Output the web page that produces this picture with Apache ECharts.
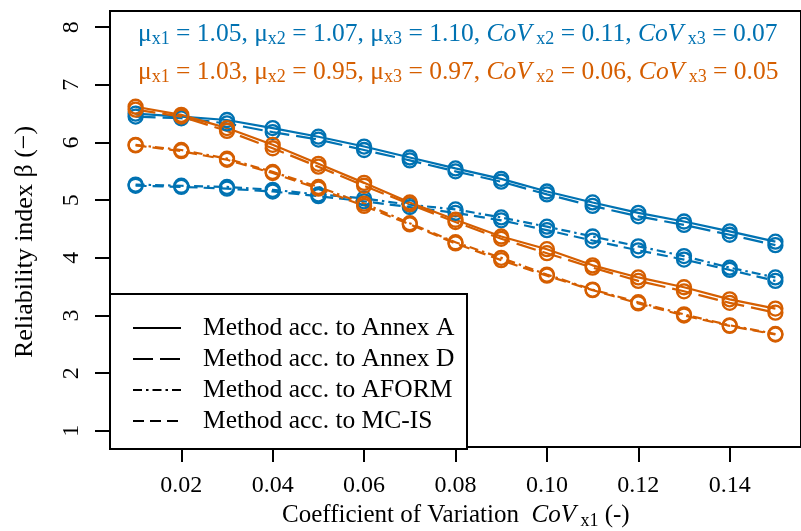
<!DOCTYPE html>
<html>
<head>
<meta charset="utf-8">
<script src="https://cdn.jsdelivr.net/npm/echarts@6/dist/echarts.min.js"></script>
<style>html,body{margin:0;padding:0;background:#fff}#c{width:801px;height:531px}</style>
</head>
<body>
<div id="c"></div>
<script>
// ---- data ----
const cov = [0.01,0.02,0.03,0.04,0.05,0.06,0.07,0.08,0.09,0.10,0.11,0.12,0.13,0.14,0.15];
const xTicks = [0.02,0.04,0.06,0.08,0.10,0.12,0.14];
const yTicks = [1,2,3,4,5,6,7,8];
const methods = ['Method acc. to Annex A','Method acc. to Annex D','Method acc. to AFORM','Method acc. to MC-IS'];

const blueAnnexA = [6.50,6.45,6.39,6.25,6.10,5.93,5.74,5.55,5.37,5.15,4.96,4.78,4.63,4.46,4.28];
const blueAnnexD = [6.45,6.42,6.33,6.18,6.05,5.87,5.69,5.50,5.32,5.10,4.90,4.72,4.57,4.40,4.22];
const blueAFORM  = [5.27,5.25,5.23,5.18,5.10,5.03,4.92,4.84,4.70,4.54,4.37,4.20,4.03,3.83,3.66];
const blueMCIS   = [5.25,5.23,5.20,5.15,5.07,4.98,4.88,4.78,4.65,4.48,4.30,4.13,3.97,3.79,3.60];

const orangeAnnexA = [6.62,6.48,6.25,5.96,5.63,5.30,4.96,4.66,4.37,4.15,3.87,3.66,3.49,3.28,3.12];
const orangeAnnexD = [6.57,6.45,6.20,5.90,5.58,5.25,4.93,4.62,4.33,4.08,3.83,3.60,3.42,3.22,3.05];
const orangeAFORM  = [5.96,5.87,5.72,5.49,5.23,4.94,4.60,4.27,4.00,3.71,3.45,3.23,3.02,2.83,2.68];
const orangeMCIS   = [5.95,5.85,5.70,5.47,5.20,4.90,4.58,4.25,3.96,3.69,3.44,3.21,3.00,2.82,2.67];

const BLUE = '#0072B2', ORANGE = '#D55E00';
const FONT = 'Liberation Serif';
const dashes = ['solid', [20,7], [9,4,2.5,4], [11,6]];

function pairs(vals){ return cov.map((c,i)=>[c, vals[i]]); }

const groups = [
  {color: BLUE,   sets: [blueAnnexA, blueAnnexD, blueAFORM, blueMCIS]},
  {color: ORANGE, sets: [orangeAnnexA, orangeAnnexD, orangeAFORM, orangeMCIS]}
];

const series = [];
groups.forEach(g => {
  g.sets.forEach((vals, k) => {
    series.push({
      type: 'line',
      data: pairs(vals),
      symbol: 'circle',
      symbolSize: 14,
      itemStyle: {color: 'rgba(0,0,0,0)', borderColor: g.color, borderWidth: 2.3},
      lineStyle: {color: g.color, width: 2.2, type: dashes[k]},
      emphasis: {disabled: true},
      z: 3
    });
  });
});
// legend-only series (black lines, no marker)
methods.forEach((name, k) => {
  series.push({
    type: 'line', name: name, data: [], symbol: 'none',
    lineStyle: {color: '#000', width: 2.2, type: dashes[k]},
    itemStyle: {color: 'rgba(0,0,0,0)', borderWidth: 0, borderColor: 'rgba(0,0,0,0)'}
  });
});

function rich(color, size, ssize){
  return {
    n: {fontSize: size, fontFamily: FONT, fill: color, color: color, lineHeight: size + 4},
    i: {fontSize: size, fontFamily: FONT, fontStyle: 'italic', fill: color, color: color, lineHeight: size + 4},
    s: {fontSize: ssize, fontFamily: FONT, fill: color, color: color, verticalAlign: 'bottom', lineHeight: ssize}
  };
}
const line1 = '{n|μ}{s|x1}{n| = 1.05, μ}{s|x2}{n| = 1.07, μ}{s|x3}{n| = 1.10, }{i|CoV}{s| x2}{n| = 0.11, }{i|CoV}{s| x3}{n| = 0.07}';
const line2 = '{n|μ}{s|x1}{n| = 1.03, μ}{s|x2}{n| = 0.95, μ}{s|x3}{n| = 0.97, }{i|CoV}{s| x2}{n| = 0.06, }{i|CoV}{s| x3}{n| = 0.05}';

const chart = echarts.init(document.getElementById('c'), null, {renderer: 'canvas'});
chart.setOption({
  animation: false,
  backgroundColor: '#fff',
  grid: {left: 110, top: 11, width: 697, height: 436, show: true, borderColor: '#000', borderWidth: 2, backgroundColor: 'transparent'},
  xAxis: {
    type: 'value', min: 0.0044, max: 0.1556,
    axisLine: {show: false},
    splitLine: {show: false},
    axisTick: {show: true, inside: false, length: 15, lineStyle: {color: '#000', width: 2}, customValues: xTicks},
    axisLabel: {customValues: xTicks, formatter: v => v.toFixed(2), fontFamily: FONT, fontSize: 24, color: '#000', margin: 27}
  },
  yAxis: {
    type: 'value', min: 0.72, max: 8.28,
    axisLine: {show: false},
    splitLine: {show: false},
    axisTick: {show: true, inside: false, length: 15, lineStyle: {color: '#000', width: 2}, customValues: yTicks},
    axisLabel: {customValues: yTicks, rotate: 90, fontFamily: FONT, fontSize: 24, color: '#000', margin: 26}
  },
  legend: {
    show: true, orient: 'vertical', left: 132, top: 315, z: 100,
    data: methods, itemWidth: 48, itemHeight: 14, itemGap: 5,
    padding: 0, selectedMode: false,
    itemStyle: {color: 'rgba(0,0,0,0)', borderWidth: 0, borderColor: 'rgba(0,0,0,0)'},
    textStyle: {fontFamily: FONT, fontSize: 25.5, color: '#000', padding: [0,0,0,17]}
  },
  graphic: [
    {type: 'rect', left: 109, top: 293, shape: {width: 357, height: 155}, style: {fill: '#fff', stroke: '#000', lineWidth: 2}, z: 10},
    {type: 'text', left: 138, top: 21, style: {text: line1, rich: rich(BLUE, 25.5, 18)}, z: 60},
    {type: 'text', left: 138, top: 59, style: {text: line2, rich: rich(ORANGE, 25.5, 18)}, z: 60},
    {type: 'text', left: 282, top: 503, style: {text: '{n|Coefficient of Variation  }{i|CoV}{s| x1}{n| (-)}', rich: rich('#000', 25, 18)}, z: 60},
    {type: 'text', x: 25, y: 242, rotation: Math.PI/2, style: {text: 'Reliability index β (−)', fontFamily: FONT, fontSize: 26, fill: '#000', align: 'center', verticalAlign: 'middle'}, z: 60}
  ],
  series: series
});
</script>
</body>
</html>
